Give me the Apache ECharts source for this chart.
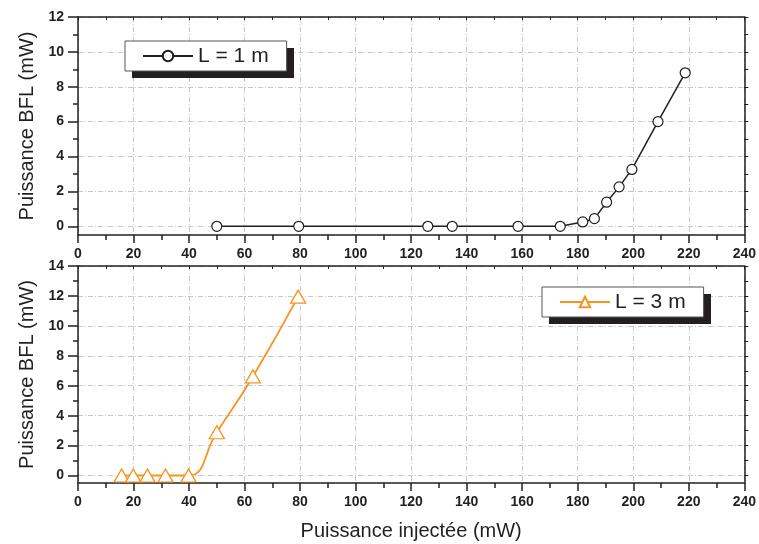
<!DOCTYPE html>
<html>
<head>
<meta charset="utf-8">
<script src="https://cdn.jsdelivr.net/npm/echarts@6/dist/echarts.min.js"></script>
<style>
html,body{margin:0;padding:0;background:#fff;}
#chart{width:759px;height:544px;}
</style>
</head>
<body>
<div id="chart"></div>
<script>
// ---- data ----
const xTicks = [0, 20, 40, 60, 80, 100, 120, 140, 160, 180, 200, 220, 240];
const yTicksTop = [0, 2, 4, 6, 8, 10, 12];
const yTicksBottom = [0, 2, 4, 6, 8, 10, 12, 14];

const seriesNameTop = 'L = 1 m';
const xTop = [50, 79.5, 126, 134.8, 158.5, 173.7, 181.8, 186, 190.4, 194.9, 199.5, 208.9, 218.7];
const yTop = [0, 0, 0, 0, 0, 0, 0.25, 0.44, 1.38, 2.26, 3.26, 6.0, 8.8];

const seriesNameBottom = 'L = 3 m';
const xBottom = [15.7, 19.9, 25.0, 31.5, 39.8, 50.0, 63.0, 79.3];
const yBottom = [0, 0, 0, 0, 0, 2.89, 6.62, 11.95];

const xTitle = 'Puissance injectée (mW)';
const yTitle = 'Puissance BFL (mW)';

// ---- styles ----
const INK = '#231f20';
const ORANGE = '#f7941d';
const FONT = 'Liberation Sans, Arial, sans-serif';
const gridLine = { show: true, lineStyle: { color: '#c8c8c8', width: 1, type: [5, 2, 1, 2] } };

function bottomX(gridIndex, withName) {
  const ax = {
    type: 'value', gridIndex: gridIndex, position: 'bottom',
    min: xTicks[0], max: xTicks[xTicks.length - 1], interval: xTicks[1] - xTicks[0],
    axisLine: { show: true, onZero: false, lineStyle: { color: INK, width: 1.5 } },
    axisTick: { show: true, length: 8, inside: false, lineStyle: { color: INK, width: 1.5 } },
    minorTick: { show: true, splitNumber: 2, length: 5, lineStyle: { color: INK, width: 1.5 } },
    axisLabel: { show: true, margin: 12, color: INK, fontSize: 14, fontWeight: 'bold', fontFamily: FONT },
    splitLine: gridLine
  };
  if (withName) {
    ax.name = xTitle;
    ax.nameLocation = 'middle';
    ax.nameGap = 38;
    ax.nameTextStyle = { color: INK, fontSize: 20, fontFamily: FONT };
  }
  return ax;
}
function topX(gridIndex) {
  return {
    type: 'value', gridIndex: gridIndex, position: 'top',
    min: xTicks[0], max: xTicks[xTicks.length - 1], interval: xTicks[1] - xTicks[0],
    axisLine: { show: true, onZero: false, lineStyle: { color: INK, width: 1.5 } },
    axisTick: { show: true, length: 3, inside: true, lineStyle: { color: INK, width: 1 } },
    minorTick: { show: true, splitNumber: 2, length: 3, lineStyle: { color: INK, width: 1 } },
    axisLabel: { show: false },
    splitLine: { show: false }
  };
}
function leftY(gridIndex, ticks) {
  return {
    type: 'value', gridIndex: gridIndex, position: 'left',
    min: -0.5, max: ticks[ticks.length - 1], splitNumber: ticks.length - 1,
    name: yTitle, nameLocation: 'middle', nameGap: 37,
    nameTextStyle: { color: INK, fontSize: 20, fontFamily: FONT },
    axisLine: { show: true, onZero: false, lineStyle: { color: INK, width: 1.5 } },
    axisTick: { show: true, length: 10, customValues: ticks, lineStyle: { color: INK, width: 1.5 } },
    minorTick: { show: true, splitNumber: 2, length: 5, lineStyle: { color: INK, width: 1.5 } },
    axisLabel: { show: true, margin: 14, color: INK, fontSize: 14, fontWeight: 'bold', fontFamily: FONT,
                 customValues: ticks },
    splitLine: gridLine
  };
}
function rightY(gridIndex, ticks) {
  return {
    type: 'value', gridIndex: gridIndex, position: 'right',
    min: -0.5, max: ticks[ticks.length - 1], splitNumber: ticks.length - 1,
    axisLine: { show: true, onZero: false, lineStyle: { color: INK, width: 1.5 } },
    axisTick: { show: true, length: 4, customValues: ticks, lineStyle: { color: INK, width: 1 } },
    minorTick: { show: true, splitNumber: 2, length: 4, lineStyle: { color: INK, width: 1 } },
    axisLabel: { show: false },
    splitLine: { show: false }
  };
}
function legendBox(name, left, top) {
  return {
    data: [name], left: left, top: top, orient: 'horizontal',
    itemWidth: 50, itemHeight: 13, itemGap: 0,
    padding: [3, 18, 3, 17],
    backgroundColor: '#fff', borderColor: '#555', borderWidth: 1,
    textStyle: { color: INK, fontSize: 21, fontFamily: FONT, lineHeight: 24 },
    selectedMode: false, z: 6
  };
}
// legend drop shadows (layout decoration)
function shadowRect(left, top, w, h) {
  return { type: 'rect', left: left + 7, top: top + 7, z: 5, silent: true,
           shape: { width: w, height: h }, style: { fill: INK } };
}

const option = {
  animation: false,
  backgroundColor: '#fff',
  grid: [
    { left: 78, right: 13, top: 17, height: 218, containLabel: false },
    { left: 78, right: 13, top: 266, height: 217, containLabel: false }
  ],
  legend: [
    legendBox(seriesNameTop, 125, 41),
    legendBox(seriesNameBottom, 542, 287)
  ],
  graphic: [
    shadowRect(125, 41, 162, 30),
    shadowRect(542, 287, 162, 30)
  ],
  xAxis: [bottomX(0, false), topX(0), bottomX(1, true), topX(1)],
  yAxis: [leftY(0, yTicksTop), rightY(0, yTicksTop), leftY(1, yTicksBottom), rightY(1, yTicksBottom)],
  series: [
    {
      name: seriesNameTop, type: 'line', xAxisIndex: 0, yAxisIndex: 0,
      data: xTop.map((x, i) => [x, yTop[i]]),
      symbol: 'circle', symbolSize: 10,
      lineStyle: { color: INK, width: 1.5 },
      itemStyle: { color: '#fff', borderColor: INK, borderWidth: 1.2 },
      z: 3
    },
    {
      name: seriesNameBottom, type: 'line', xAxisIndex: 2, yAxisIndex: 2,
      data: xBottom.map((x, i) => [x, yBottom[i]]),
      smooth: 0.5,
      symbol: 'triangle', symbolSize: [15, 13],
      lineStyle: { color: ORANGE, width: 1.8 },
      itemStyle: { color: '#fff', borderColor: ORANGE, borderWidth: 1.3 },
      z: 3
    }
  ]
};

const chart = echarts.init(document.getElementById('chart'), null, { renderer: 'canvas' });
chart.setOption(option);
</script>
</body>
</html>
